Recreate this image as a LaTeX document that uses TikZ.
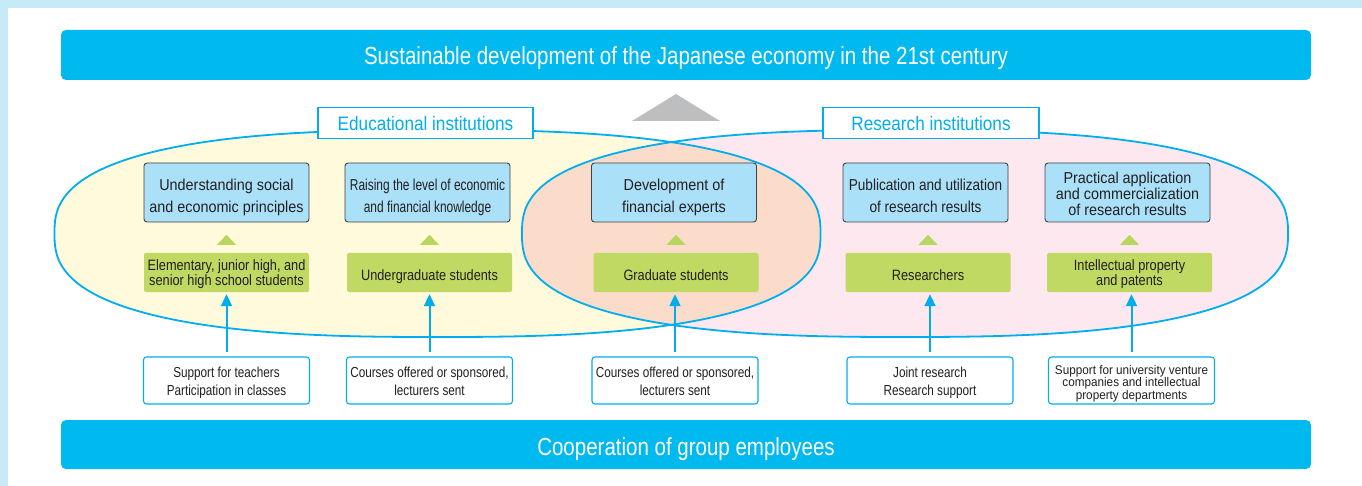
\documentclass[tikz,border=0pt]{standalone}
\usepackage{fontspec}
\setmainfont{Liberation Sans}[FakeStretch=0.83]
\newfontfamily\flab{Liberation Sans}[FakeStretch=0.88]
\newfontfamily\fblue{Liberation Sans}[FakeStretch=0.91]
\newfontfamily\fblueb{Liberation Sans}[FakeStretch=0.86]
\newfontfamily\fnarrow{Liberation Sans}[FakeStretch=0.755]
\newfontfamily\fgreen{Liberation Sans}[FakeStretch=0.85]
\newfontfamily\fwhite{Liberation Sans}[FakeStretch=0.81]
\newfontfamily\fsmall{Liberation Sans}[FakeStretch=0.93]
\usetikzlibrary{arrows.meta,calc}
\newcommand\up[1]{\rule{0pt}{#1}}
\newcommand\dn[1]{\rule[-#1]{0pt}{#1}}
\definecolor{framec}{HTML}{C7EAF9}
\definecolor{barcyan}{HTML}{00B9EF}
\definecolor{cyanline}{HTML}{00AEEF}
\definecolor{yel}{HTML}{FEFADB}
\definecolor{pnk}{HTML}{FDE8F0}
\definecolor{salm}{HTML}{FBDCCB}
\definecolor{boxblue}{HTML}{ABE0F9}
\definecolor{boxedge}{HTML}{404041}
\definecolor{grn}{HTML}{BFD962}
\definecolor{gtri}{HTML}{B8D65E}
\definecolor{greytri}{HTML}{BCBEC0}
\definecolor{txt}{HTML}{231F20}
\def\ellL{plot[domain=1:361,samples=241] ({437.5+383*sign(cos(\x))*pow(abs(cos(\x)),0.77)},{233.5+103.5*sign(sin(\x))*pow(abs(sin(\x)),0.77)})}
\def\ellR{plot[domain=1:361,samples=241] ({905+383*sign(cos(\x))*pow(abs(cos(\x)),0.77)},{233.5+103.5*sign(sin(\x))*pow(abs(sin(\x)),0.77)})}
\begin{document}
\begin{tikzpicture}[x=1pt,y=-1pt,
  bar/.style={fill=barcyan, rounded corners=5pt, minimum width=1250pt, minimum height=50pt, text=white, font=\fontsize{24.7}{26}\selectfont, inner sep=0pt},
  lab/.style={draw=cyanline, fill=white, line width=1.8pt, minimum width=215pt, minimum height=31pt, font={\flab\fontsize{19.5}{20}\selectfont}, text=cyanline, inner sep=0pt},
  bluebox/.style={draw=boxedge, fill=boxblue, line width=0.9pt, rounded corners=3pt, minimum width=165pt, minimum height=59pt, align=center, font={\fblue\fontsize{15.8}{22}\selectfont}, text=txt, inner sep=0pt},
  greenbox/.style={fill=grn, rounded corners=2pt, minimum width=165pt, minimum height=39pt, align=center, font={\fgreen\fontsize{15}{15}\selectfont}, text=txt, inner sep=0pt},
  whitebox/.style={draw=cyanline, fill=white, line width=1.1pt, rounded corners=3pt, minimum width=166pt, minimum height=47pt, align=center, font={\fwhite\fontsize{14.5}{18}\selectfont}, text=txt, inner sep=0pt},
  ell/.style={draw=cyanline, line width=1.8pt},
  arr/.style={draw=cyanline, line width=2pt, -{Triangle[length=12pt,width=11pt]}, shorten <=4pt, shorten >=2pt}
]
\useasboundingbox (0,0) rectangle (1362,486);
\fill[framec] (0,0) rectangle (1362,8);
\fill[framec] (0,0) rectangle (8,486);

% ellipses
\fill[yel] \ellL -- cycle;
\fill[pnk] \ellR -- cycle;
\begin{scope}
  \clip \ellL -- cycle;
  \fill[salm] \ellR -- cycle;
\end{scope}
\draw[ell] \ellL -- cycle;
\draw[ell] \ellR -- cycle;

% bars
\node[bar] (top) at (686,55) {\up{26pt}\dn{6pt}Sustainable development of the Japanese economy in the 21st century};
\node[bar, minimum height=49pt] (bottom) at (686,444.5) {\up{27pt}\dn{6pt}Cooperation of group employees};

% grey triangle
\fill[greytri] (632,121) -- (720,121) -- (676,94) -- cycle;

% labels
\node[lab] (edu) at (425.5,123) {\up{21pt}\dn{5pt}Educational institutions};
\node[lab, minimum width=216pt] (res) at (931,123) {\up{21pt}\dn{5pt}Research institutions};

% blue boxes
\node[bluebox] (b1) at (226.5,192.5) {\up{23.4pt}Understanding social\\\dn{5pt}and economic principles};
\node[bluebox, font={\fnarrow\fontsize{15.8}{22}\selectfont}] (b2) at (427.5,192.5) {\up{23.4pt}Raising the level of economic\\\dn{5pt}and financial knowledge};
\node[bluebox] (b3) at (674,192.5) {\up{23.4pt}Development of\\\dn{5pt}financial experts};
\node[bluebox, font={\fblueb\fontsize{15.8}{22}\selectfont}] (b4) at (925.5,192.5) {\up{23.4pt}Publication and utilization\\\dn{5pt}of research results};
\node[bluebox, font={\fblue\fontsize{15.8}{16}\selectfont}] (b5) at (1127.5,192.5) {\up{19.4pt}Practical application\\and commercialization\\\dn{5pt}of research results};

% green boxes
\node[greenbox] (g1) at (226.5,272.5) {\up{15.4pt}Elementary, junior high, and\\\dn{4pt}senior high school students};
\node[greenbox] (g2) at (429.5,272.5) {\up{19pt}\dn{4pt}Undergraduate students};
\node[greenbox] (g3) at (676,272.5) {\up{19pt}\dn{4pt}Graduate students};
\node[greenbox] (g4) at (928,272.5) {\up{19pt}\dn{4pt}Researchers};
\node[greenbox] (g5) at (1129.5,272.5) {\up{15.4pt}Intellectual property\\\dn{4pt}and patents};

% white boxes
\node[whitebox] (w1) at (226.5,380.5) {\up{16.4pt}Support for teachers\\\dn{4pt}Participation in classes};
\node[whitebox] (w2) at (429.5,380.5) {\up{16.4pt}Courses offered or sponsored,\\\dn{4pt}lecturers sent};
\node[whitebox] (w3) at (675,380.5) {\up{16.4pt}Courses offered or sponsored,\\\dn{4pt}lecturers sent};
\node[whitebox] (w4) at (930,380.5) {\up{16.4pt}Joint research\\\dn{4pt}Research support};
\node[whitebox, font={\fsmall\fontsize{12.6}{12.5}\selectfont}] (w5) at (1131.5,380.5) {\up{16pt}Support for university venture\\companies and intellectual\\\dn{4pt}property departments};

% small green triangles and arrows
\foreach \n in {1,...,5} {
  \fill[gtri] ($(g\n.north)+(-9.5,-8)$) -- ($(g\n.north)+(9.5,-8)$) -- ($(g\n.north)+(0,-18)$) -- cycle;
  \draw[arr] (w\n.north) -- (w\n.north |- g\n.south);
}
\end{tikzpicture}
\end{document}
